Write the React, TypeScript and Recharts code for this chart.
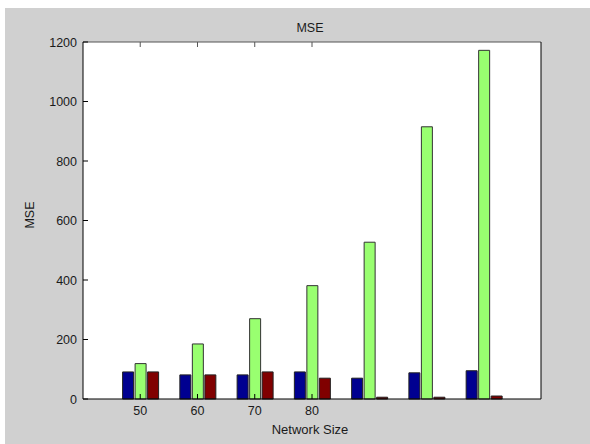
import React from "react";
import { BarChart, Bar, XAxis, YAxis, CartesianGrid } from "recharts";

const groupIds = [1, 2, 3, 4, 5, 6, 7];
const tickLabels = ["50", "60", "70", "80", "", "", ""];
const seriesA = [91, 81, 81, 91, 70, 88, 95];
const seriesB = [119, 185, 270, 381, 527, 915, 1172];
const seriesC = [91, 81, 91, 70, 6, 6, 10];
const yTicks = [0, 200, 400, 600, 800, 1000, 1200];

const data = groupIds.map((id, i) => ({
  id,
  label: tickLabels[i],
  a: seriesA[i],
  b: seriesB[i],
  c: seriesC[i],
}));

const FONT = "Arial, 'Liberation Sans', sans-serif";
const TXT = "#1a1a1a";
const TICK_LEN = 5;

const labelOf = (v: any) => {
  const idx = groupIds.indexOf(Number(v));
  return idx >= 0 ? tickLabels[idx] : "";
};

const BottomTick = (props: any) => {
  const { x, y, payload } = props;
  const lab = labelOf(payload.value);
  if (!lab) return null;
  return (
    <g>
      <line x1={x} x2={x} y1={y} y2={y - TICK_LEN} stroke="#000" strokeWidth={1} />
      <text x={x} y={y + 16} textAnchor="middle" fontSize={12.5} fontFamily={FONT} fill={TXT}>
        {lab}
      </text>
    </g>
  );
};

const TopTick = (props: any) => {
  const { x, y, payload } = props;
  const lab = labelOf(payload.value);
  if (!lab) return null;
  return <line x1={x} x2={x} y1={y} y2={y + TICK_LEN} stroke="#555" strokeWidth={1} />;
};

const LeftTick = (props: any) => {
  const { x, y, payload } = props;
  return (
    <g>
      <line x1={x} x2={x + TICK_LEN} y1={y} y2={y} stroke="#000" strokeWidth={1} />
      <text x={x - 6} y={y + 4.5} textAnchor="end" fontSize={12.5} fontFamily={FONT} fill={TXT}>
        {payload.value}
      </text>
    </g>
  );
};

const RightTick = (props: any) => {
  const { x, y } = props;
  return <line x1={x} x2={x - TICK_LEN} y1={y} y2={y} stroke="#555" strokeWidth={1} />;
};

export default function App() {
  return (
    <div
      style={{
        position: "absolute",
        left: 5,
        top: 8,
        width: 585,
        height: 436,
        background: "#d0d0d0",
      }}
    >
      <BarChart
        width={585}
        height={436}
        data={data}
        margin={{ top: 33, right: 48, bottom: 15, left: 38 }}
        barSize={11}
        barGap={1.5}
      >
        <CartesianGrid horizontal={false} vertical={false} fill="#ffffff" />
        <XAxis
          xAxisId="bottom"
          dataKey="id"
          type="category"
          orientation="bottom"
          height={30}
          padding={{ left: 28.6, right: 28.6 }}
          interval={0}
          tickSize={0}
          tickMargin={0}
          tickLine={false}
          axisLine={{ stroke: "#000", strokeWidth: 1 }}
          tick={<BottomTick />}
        />
        <XAxis
          xAxisId="top"
          dataKey="id"
          type="category"
          orientation="top"
          height={1}
          padding={{ left: 28.6, right: 28.6 }}
          interval={0}
          tickSize={0}
          tickMargin={0}
          tickLine={false}
          axisLine={{ stroke: "#555", strokeWidth: 1 }}
          tick={<TopTick />}
        />
        <YAxis
          yAxisId="left"
          orientation="left"
          width={40}
          domain={[0, 1200]}
          ticks={yTicks}
          interval={0}
          tickSize={0}
          tickMargin={0}
          tickLine={false}
          axisLine={{ stroke: "#000", strokeWidth: 1 }}
          tick={<LeftTick />}
        />
        <YAxis
          yAxisId="right"
          orientation="right"
          width={1}
          domain={[0, 1200]}
          ticks={yTicks}
          interval={0}
          tickSize={0}
          tickMargin={0}
          tickLine={false}
          axisLine={{ stroke: "#000", strokeWidth: 1 }}
          tick={<RightTick />}
        />
        <Bar xAxisId="bottom" yAxisId="left" dataKey="a" fill="#000090" stroke="#222" strokeWidth={1} isAnimationActive={false} />
        <Bar xAxisId="bottom" yAxisId="left" dataKey="b" fill="#99ff70" stroke="#333" strokeWidth={1} isAnimationActive={false} />
        <Bar xAxisId="bottom" yAxisId="left" dataKey="c" fill="#800000" stroke="#222" strokeWidth={1} isAnimationActive={false} />
      </BarChart>
      <div
        style={{
          position: "absolute",
          left: 305,
          top: 20,
          transform: "translate(-50%, -50%)",
          fontFamily: FONT,
          fontSize: 12.5,
          color: TXT,
          whiteSpace: "nowrap",
        }}
      >
        MSE
      </div>
      <div
        style={{
          position: "absolute",
          left: 305,
          top: 421,
          transform: "translate(-50%, -50%)",
          fontFamily: FONT,
          fontSize: 13,
          color: TXT,
          whiteSpace: "nowrap",
        }}
      >
        Network Size
      </div>
      <div
        style={{
          position: "absolute",
          left: 25,
          top: 207,
          transform: "translate(-50%, -50%) rotate(-90deg)",
          fontFamily: FONT,
          fontSize: 12.5,
          color: TXT,
          whiteSpace: "nowrap",
        }}
      >
        MSE
      </div>
    </div>
  );
}
